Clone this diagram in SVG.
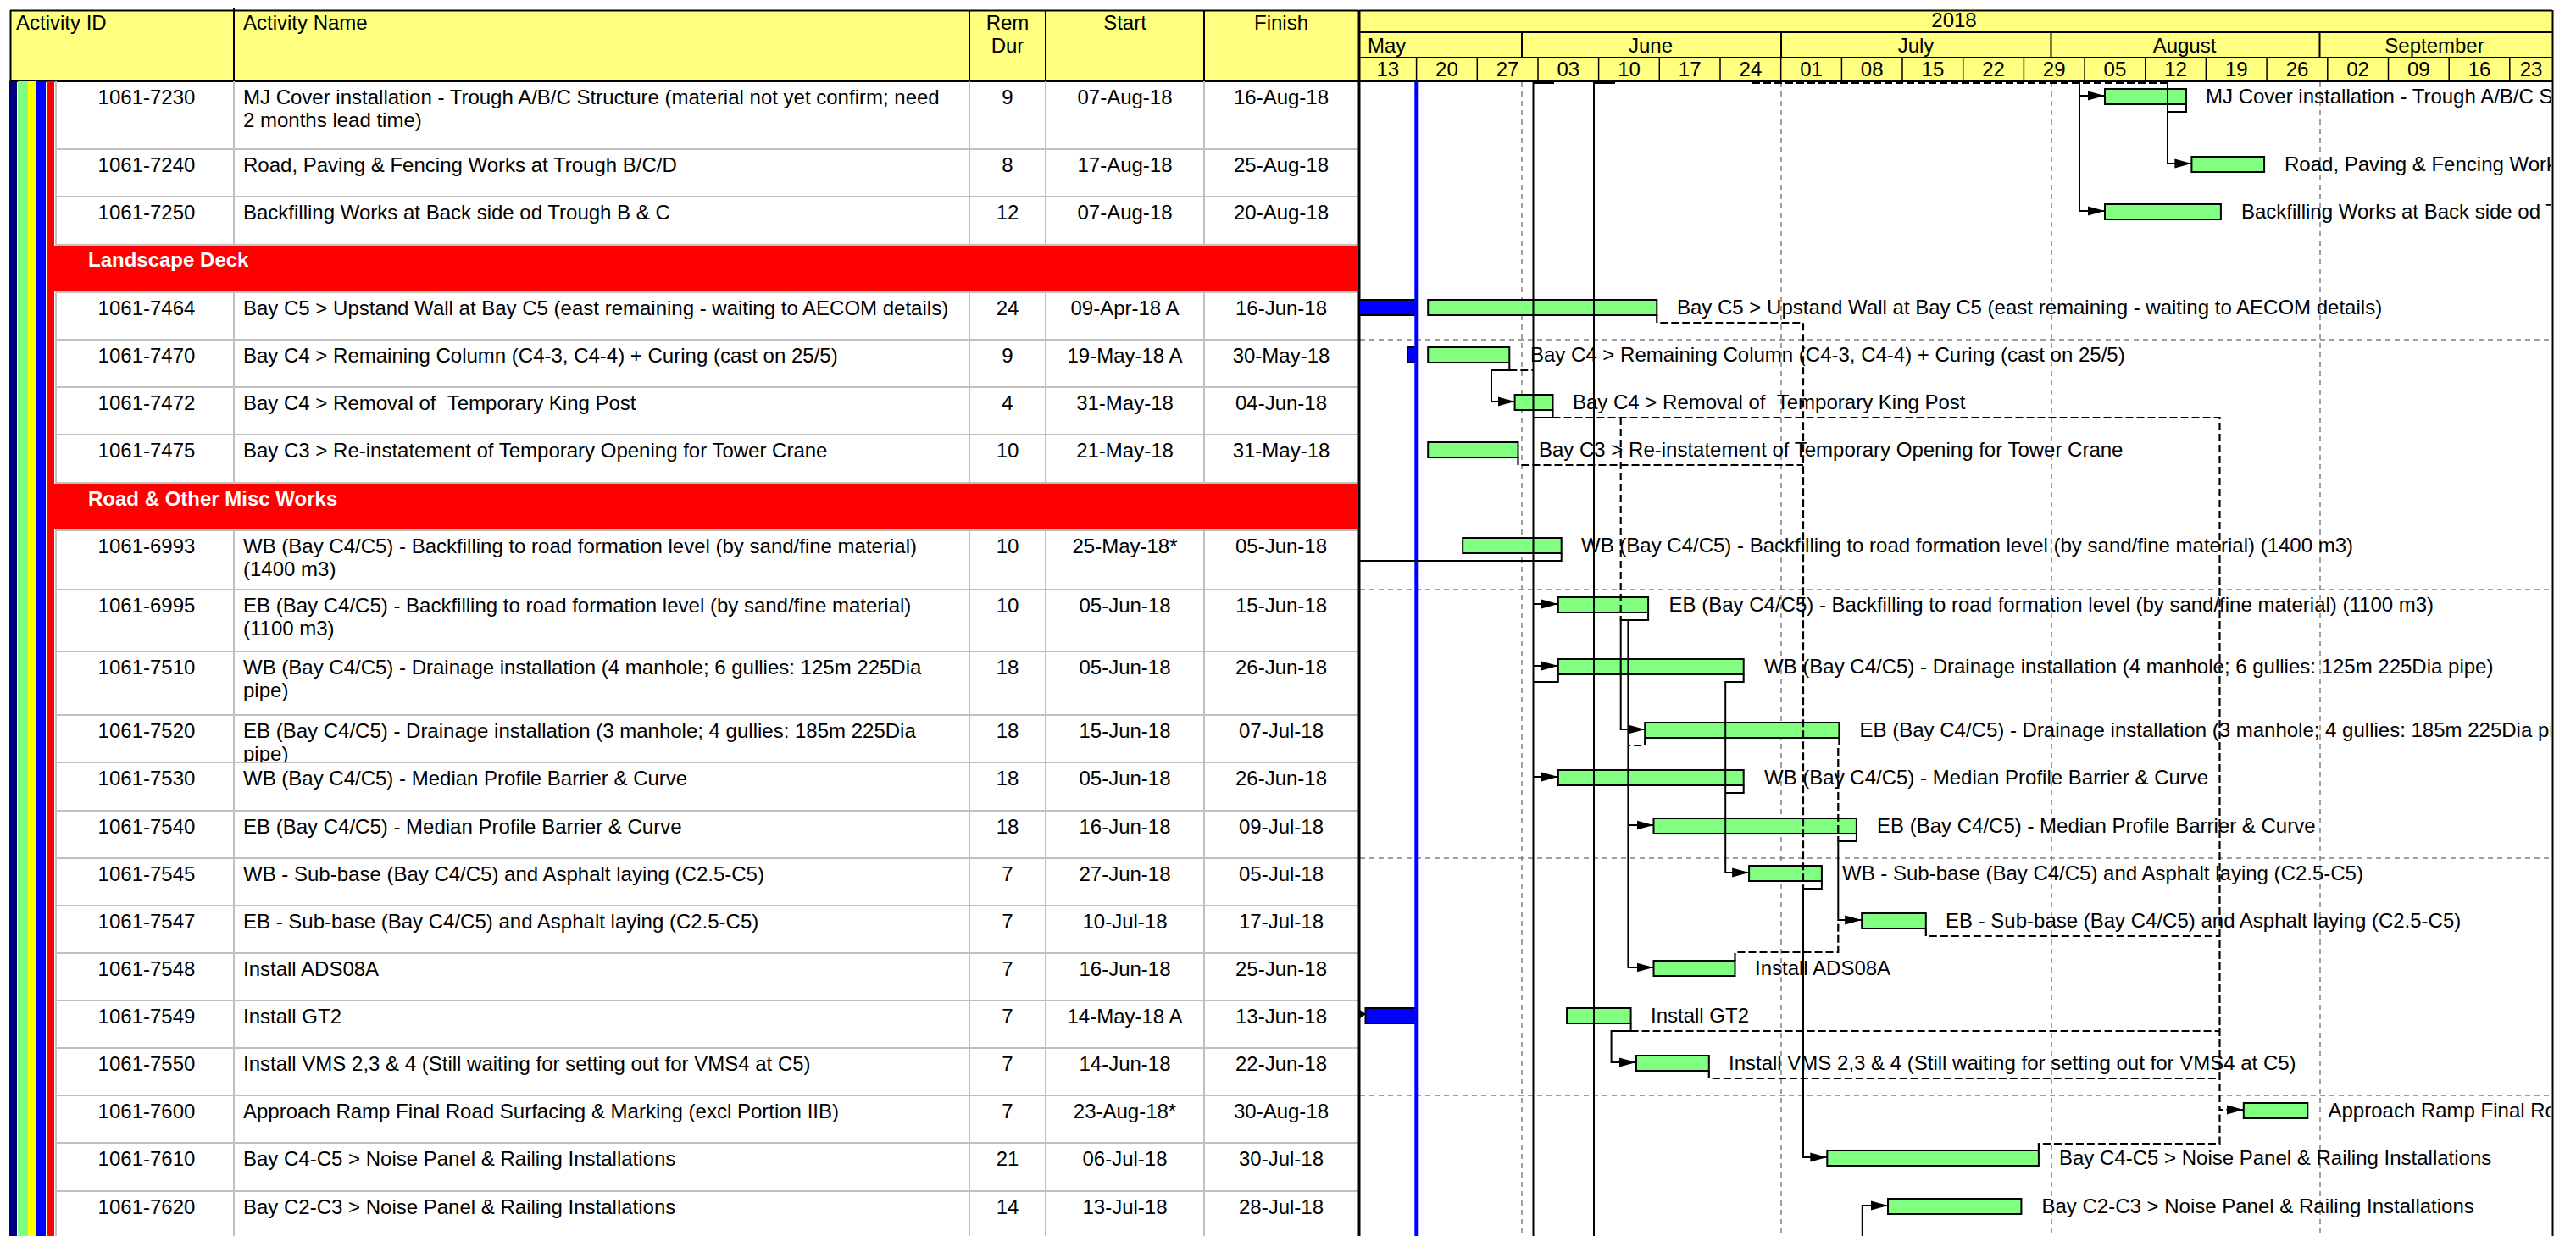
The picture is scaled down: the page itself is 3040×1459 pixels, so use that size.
<svg xmlns="http://www.w3.org/2000/svg" width="3040" height="1459" viewBox="0 0 3040 1459">
<style>
.t{font-family:"Liberation Sans",Arial,Helvetica,sans-serif;font-size:24px;fill:#000}
.c{text-anchor:middle}
.bt{font-weight:bold;fill:#fff}
.grid{stroke:#c0c0c0;stroke-width:2;fill:none}
.hl{stroke:#000;stroke-width:2;fill:none}
.tick{stroke:#000;stroke-width:1.5;fill:none}
.bar{fill:#80ff80;stroke:#000;stroke-width:2}
.act{fill:#0000ff;stroke:#000;stroke-width:2}
.rel{fill:none;stroke:#000;stroke-width:2}
.reld{fill:none;stroke:#000;stroke-width:2.2;stroke-dasharray:9 4}
.sight{stroke:#808080;stroke-width:1.5;stroke-dasharray:6 5;fill:none}
.arrow{marker-end:url(#arr)}
</style>
<defs>
<marker id="arr" markerUnits="userSpaceOnUse" markerWidth="21" markerHeight="12" refX="20" refY="6" orient="auto" viewBox="0 0 21 12"><path d="M0,0.5 L20,6 L0,11.5 z" fill="#000"/></marker>
<clipPath id="gclip"><rect x="1606" y="97" width="1405" height="1362"/></clipPath>
<clipPath id="c7520"><rect x="277" y="845" width="866" height="54"/></clipPath>
</defs>
<rect x="0" y="0" width="3040" height="1459" fill="#fff"/>

<g id="table-header">
<rect x="12" y="12" width="1591" height="84" fill="#ffff80"/>
<path class="hl" d="M12,12.5 H1603 M12.5,12 V96 M276,9 V96 M1144,12 V96 M1234,12 V96 M1421,12 V96"/>
<path d="M12,95.5 H1604" stroke="#000" stroke-width="3"/>
<text class="t" x="19" y="35">Activity ID</text>
<text class="t" x="287" y="35">Activity Name</text>
<text class="t c" x="1189" y="35">Rem</text>
<text class="t c" x="1189" y="62">Dur</text>
<text class="t c" x="1327.5" y="35">Start</text>
<text class="t c" x="1512" y="35">Finish</text>
</g>

<g id="gantt-header">
<rect x="1604" y="12" width="1408" height="84" fill="#ffff80"/>
<path class="hl" d="M1604,12.5 H3012 M1604,38 H3012 M1604,68 H3012 M1796,38 V68 M2102,38 V68 M2420.5,38 V68 M2737.5,38 V68"/>
<path d="M1604,95.5 H3013" stroke="#000" stroke-width="3"/>
<path class="tick" d="M1671.6,68 V96 M1743.3,68 V96 M1815,68 V96 M1886.6,68 V96 M1958.3,68 V96 M2030,68 V96 M2101.7,68 V96 M2173.4,68 V96 M2245,68 V96 M2316.7,68 V96 M2388.4,68 V96 M2460.1,68 V96 M2531.8,68 V96 M2603.4,68 V96 M2675.1,68 V96 M2746.8,68 V96 M2818.5,68 V96 M2890.2,68 V96 M2961.8,68 V96"/>
<text class="t c" x="2306" y="32">2018</text>
<text class="t" x="1614" y="62">May</text>
<text class="t c" x="1948" y="62">June</text>
<text class="t c" x="2261" y="62">July</text>
<text class="t c" x="2578" y="62">August</text>
<text class="t c" x="2873" y="62">September</text>
<text class="t c" x="1637.8" y="90">13</text>
<text class="t c" x="1707.4" y="90">20</text>
<text class="t c" x="1779.1" y="90">27</text>
<text class="t c" x="1850.8" y="90">03</text>
<text class="t c" x="1922.5" y="90">10</text>
<text class="t c" x="1994.2" y="90">17</text>
<text class="t c" x="2065.9" y="90">24</text>
<text class="t c" x="2137.5" y="90">01</text>
<text class="t c" x="2209.2" y="90">08</text>
<text class="t c" x="2280.9" y="90">15</text>
<text class="t c" x="2352.6" y="90">22</text>
<text class="t c" x="2424.2" y="90">29</text>
<text class="t c" x="2495.9" y="90">05</text>
<text class="t c" x="2567.6" y="90">12</text>
<text class="t c" x="2639.3" y="90">19</text>
<text class="t c" x="2711" y="90">26</text>
<text class="t c" x="2782.6" y="90">02</text>
<text class="t c" x="2854.3" y="90">09</text>
<text class="t c" x="2926" y="90">16</text>
<text class="t c" x="2987" y="90">23</text>
</g>

<g id="table-grid">
<rect x="11" y="96" width="9" height="1363" fill="#000080"/>
<rect x="21" y="96" width="12" height="1363" fill="#80ff80"/>
<rect x="33" y="96" width="10" height="1363" fill="#ffff00"/>
<rect x="43" y="96" width="11" height="1363" fill="#0000ff"/>
<rect x="55" y="96" width="9" height="1363" fill="#ff0000"/>
<path class="grid" d="M66,96 V1459 M276,96 V1459 M1144,96 V1459 M1234,96 V1459 M1421,96 V1459"/>
<path class="grid" d="M66,176 H1603 M66,232 H1603 M66,289 H1603 M66,345 H1603 M66,401 H1603 M66,457 H1603 M66,513 H1603 M66,570 H1603 M66,626 H1603 M66,696 H1603 M66,769 H1603 M66,844 H1603 M66,900 H1603 M66,957 H1603 M66,1013 H1603 M66,1069 H1603 M66,1125 H1603 M66,1181 H1603 M66,1237 H1603 M66,1293 H1603 M66,1349 H1603 M66,1406 H1603"/>
</g>

<g id="gantt-grid">
<path class="sight" d="M1796,97 V1459 M2102,97 V1459 M2421,97 V1459 M2738,97 V1459"/>
<path class="sight" d="M1605,401 H3012 M1605,696 H3012 M1605,1013 H3012 M1605,1293 H3012"/>
<path d="M1604,12 V1459" stroke="#000" stroke-width="3"/>
<path d="M3012.5,12 V1459" stroke="#000" stroke-width="2"/>
</g>

<g id="band-landscape-deck">
<rect x="55" y="290" width="1548" height="54" fill="#ff0000"/>
<text class="t bt" x="104" y="315">Landscape Deck</text>
</g>
<g id="band-road-misc">
<rect x="55" y="571" width="1548" height="54" fill="#ff0000"/>
<text class="t bt" x="104" y="597">Road &amp; Other Misc Works</text>
</g>

<g id="a1061-7230">
<text class="t c" x="173" y="123">1061-7230</text>
<text class="t" x="287" y="123">MJ Cover installation - Trough A/B/C Structure (material not yet confirm; need</text>
<text class="t" x="287" y="150">2 months lead time)</text>
<text class="t c" x="1189" y="123">9</text>
<text class="t c" x="1327.5" y="123">07-Aug-18</text>
<text class="t c" x="1512" y="123">16-Aug-18</text>
<rect class="bar" x="2484" y="105" width="96" height="18"/>
<text class="t" x="2603" y="122" clip-path="url(#gclip)">MJ Cover installation - Trough A/B/C Structure (material not yet confirm; need 2 months lead time)</text>
</g>
<g id="a1061-7240">
<text class="t c" x="173" y="203">1061-7240</text>
<text class="t" x="287" y="203">Road, Paving &amp; Fencing Works at Trough B/C/D</text>
<text class="t c" x="1189" y="203">8</text>
<text class="t c" x="1327.5" y="203">17-Aug-18</text>
<text class="t c" x="1512" y="203">25-Aug-18</text>
<rect class="bar" x="2586.4" y="185" width="85.7" height="18"/>
<text class="t" x="2696" y="202" clip-path="url(#gclip)">Road, Paving &amp; Fencing Works at Trough B/C/D</text>
</g>
<g id="a1061-7250">
<text class="t c" x="173" y="259">1061-7250</text>
<text class="t" x="287" y="259">Backfilling Works at Back side od Trough B &amp; C</text>
<text class="t c" x="1189" y="259">12</text>
<text class="t c" x="1327.5" y="259">07-Aug-18</text>
<text class="t c" x="1512" y="259">20-Aug-18</text>
<rect class="bar" x="2484" y="241" width="136.9" height="18"/>
<text class="t" x="2645" y="258" clip-path="url(#gclip)">Backfilling Works at Back side od Trough B &amp; C</text>
</g>
<g id="a1061-7464">
<text class="t c" x="173" y="372">1061-7464</text>
<text class="t" x="287" y="372">Bay C5 &gt; Upstand Wall at Bay C5 (east remaining - waiting to AECOM details)</text>
<text class="t c" x="1189" y="372">24</text>
<text class="t c" x="1327.5" y="372">09-Apr-18 A</text>
<text class="t c" x="1512" y="372">16-Jun-18</text>
<rect class="act" x="1604" y="354" width="68" height="18"/>
<rect class="bar" x="1685.2" y="354" width="270.1" height="18"/>
<text class="t" x="1979" y="371" clip-path="url(#gclip)">Bay C5 &gt; Upstand Wall at Bay C5 (east remaining - waiting to AECOM details)</text>
</g>
<g id="a1061-7470">
<text class="t c" x="173" y="428">1061-7470</text>
<text class="t" x="287" y="428">Bay C4 &gt; Remaining Column (C4-3, C4-4) + Curing (cast on 25/5)</text>
<text class="t c" x="1189" y="428">9</text>
<text class="t c" x="1327.5" y="428">19-May-18 A</text>
<text class="t c" x="1512" y="428">30-May-18</text>
<rect class="act" x="1661" y="410" width="11" height="18"/>
<rect class="bar" x="1685.2" y="410" width="96.1" height="18"/>
<text class="t" x="1806" y="427" clip-path="url(#gclip)">Bay C4 &gt; Remaining Column (C4-3, C4-4) + Curing (cast on 25/5)</text>
</g>
<g id="a1061-7472">
<text class="t c" x="173" y="484">1061-7472</text>
<text class="t" x="287" y="484">Bay C4 &gt; Removal of &#160;Temporary King Post</text>
<text class="t c" x="1189" y="484">4</text>
<text class="t c" x="1327.5" y="484">31-May-18</text>
<text class="t c" x="1512" y="484">04-Jun-18</text>
<rect class="bar" x="1787.6" y="466" width="44.9" height="18"/>
<text class="t" x="1856" y="483" clip-path="url(#gclip)">Bay C4 &gt; Removal of &#160;Temporary King Post</text>
</g>
<g id="a1061-7475">
<text class="t c" x="173" y="540">1061-7475</text>
<text class="t" x="287" y="540">Bay C3 &gt; Re-instatement of Temporary Opening for Tower Crane</text>
<text class="t c" x="1189" y="540">10</text>
<text class="t c" x="1327.5" y="540">21-May-18</text>
<text class="t c" x="1512" y="540">31-May-18</text>
<rect class="bar" x="1685.2" y="522" width="106.3" height="18"/>
<text class="t" x="1816" y="539" clip-path="url(#gclip)">Bay C3 &gt; Re-instatement of Temporary Opening for Tower Crane</text>
</g>
<g id="a1061-6993">
<text class="t c" x="173" y="653">1061-6993</text>
<text class="t" x="287" y="653">WB (Bay C4/C5) - Backfilling to road formation level (by sand/fine material)</text>
<text class="t" x="287" y="680">(1400 m3)</text>
<text class="t c" x="1189" y="653">10</text>
<text class="t c" x="1327.5" y="653">25-May-18*</text>
<text class="t c" x="1512" y="653">05-Jun-18</text>
<rect class="bar" x="1726.2" y="635" width="116.5" height="18"/>
<text class="t" x="1866" y="652" clip-path="url(#gclip)">WB (Bay C4/C5) - Backfilling to road formation level (by sand/fine material) (1400 m3)</text>
</g>
<g id="a1061-6995">
<text class="t c" x="173" y="723">1061-6995</text>
<text class="t" x="287" y="723">EB (Bay C4/C5) - Backfilling to road formation level (by sand/fine material)</text>
<text class="t" x="287" y="750">(1100 m3)</text>
<text class="t c" x="1189" y="723">10</text>
<text class="t c" x="1327.5" y="723">05-Jun-18</text>
<text class="t c" x="1512" y="723">15-Jun-18</text>
<rect class="bar" x="1838.8" y="705" width="106.3" height="18"/>
<text class="t" x="1969.5" y="722" clip-path="url(#gclip)">EB (Bay C4/C5) - Backfilling to road formation level (by sand/fine material) (1100 m3)</text>
</g>
<g id="a1061-7510">
<text class="t c" x="173" y="796">1061-7510</text>
<text class="t" x="287" y="796">WB (Bay C4/C5) - Drainage installation (4 manhole; 6 gullies: 125m 225Dia</text>
<text class="t" x="287" y="823">pipe)</text>
<text class="t c" x="1189" y="796">18</text>
<text class="t c" x="1327.5" y="796">05-Jun-18</text>
<text class="t c" x="1512" y="796">26-Jun-18</text>
<rect class="bar" x="1838.8" y="778" width="218.9" height="18"/>
<text class="t" x="2082" y="795" clip-path="url(#gclip)">WB (Bay C4/C5) - Drainage installation (4 manhole; 6 gullies: 125m 225Dia pipe)</text>
</g>
<g id="a1061-7520">
<text class="t c" x="173" y="871">1061-7520</text>
<g clip-path="url(#c7520)">
<text class="t" x="287" y="871">EB (Bay C4/C5) - Drainage installation (3 manhole; 4 gullies: 185m 225Dia</text>
<text class="t" x="287" y="898">pipe)</text>
</g>
<text class="t c" x="1189" y="871">18</text>
<text class="t c" x="1327.5" y="871">15-Jun-18</text>
<text class="t c" x="1512" y="871">07-Jul-18</text>
<rect class="bar" x="1941.2" y="853" width="229.2" height="18"/>
<text class="t" x="2194.5" y="870" clip-path="url(#gclip)">EB (Bay C4/C5) - Drainage installation (3 manhole; 4 gullies: 185m 225Dia pipe)</text>
</g>
<g id="a1061-7530">
<text class="t c" x="173" y="927">1061-7530</text>
<text class="t" x="287" y="927">WB (Bay C4/C5) - Median Profile Barrier &amp; Curve</text>
<text class="t c" x="1189" y="927">18</text>
<text class="t c" x="1327.5" y="927">05-Jun-18</text>
<text class="t c" x="1512" y="927">26-Jun-18</text>
<rect class="bar" x="1838.8" y="909" width="218.9" height="18"/>
<text class="t" x="2082" y="926" clip-path="url(#gclip)">WB (Bay C4/C5) - Median Profile Barrier &amp; Curve</text>
</g>
<g id="a1061-7540">
<text class="t c" x="173" y="984">1061-7540</text>
<text class="t" x="287" y="984">EB (Bay C4/C5) - Median Profile Barrier &amp; Curve</text>
<text class="t c" x="1189" y="984">18</text>
<text class="t c" x="1327.5" y="984">16-Jun-18</text>
<text class="t c" x="1512" y="984">09-Jul-18</text>
<rect class="bar" x="1951.5" y="966" width="239.4" height="18"/>
<text class="t" x="2215" y="983" clip-path="url(#gclip)">EB (Bay C4/C5) - Median Profile Barrier &amp; Curve</text>
</g>
<g id="a1061-7545">
<text class="t c" x="173" y="1040">1061-7545</text>
<text class="t" x="287" y="1040">WB - Sub-base (Bay C4/C5) and Asphalt laying (C2.5-C5)</text>
<text class="t c" x="1189" y="1040">7</text>
<text class="t c" x="1327.5" y="1040">27-Jun-18</text>
<text class="t c" x="1512" y="1040">05-Jul-18</text>
<rect class="bar" x="2064.1" y="1022" width="85.8" height="18"/>
<text class="t" x="2174" y="1039" clip-path="url(#gclip)">WB - Sub-base (Bay C4/C5) and Asphalt laying (C2.5-C5)</text>
</g>
<g id="a1061-7547">
<text class="t c" x="173" y="1096">1061-7547</text>
<text class="t" x="287" y="1096">EB - Sub-base (Bay C4/C5) and Asphalt laying (C2.5-C5)</text>
<text class="t c" x="1189" y="1096">7</text>
<text class="t c" x="1327.5" y="1096">10-Jul-18</text>
<text class="t c" x="1512" y="1096">17-Jul-18</text>
<rect class="bar" x="2197.2" y="1078" width="75.6" height="18"/>
<text class="t" x="2296" y="1095" clip-path="url(#gclip)">EB - Sub-base (Bay C4/C5) and Asphalt laying (C2.5-C5)</text>
</g>
<g id="a1061-7548">
<text class="t c" x="173" y="1152">1061-7548</text>
<text class="t" x="287" y="1152">Install ADS08A</text>
<text class="t c" x="1189" y="1152">7</text>
<text class="t c" x="1327.5" y="1152">16-Jun-18</text>
<text class="t c" x="1512" y="1152">25-Jun-18</text>
<rect class="bar" x="1951.5" y="1134" width="96" height="18"/>
<text class="t" x="2071" y="1151" clip-path="url(#gclip)">Install ADS08A</text>
</g>
<g id="a1061-7549">
<text class="t c" x="173" y="1208">1061-7549</text>
<text class="t" x="287" y="1208">Install GT2</text>
<text class="t c" x="1189" y="1208">7</text>
<text class="t c" x="1327.5" y="1208">14-May-18 A</text>
<text class="t c" x="1512" y="1208">13-Jun-18</text>
<rect class="act" x="1611.5" y="1190" width="60.5" height="18"/>
<rect class="bar" x="1849.1" y="1190" width="75.5" height="18"/>
<text class="t" x="1948" y="1207" clip-path="url(#gclip)">Install GT2</text>
</g>
<g id="a1061-7550">
<text class="t c" x="173" y="1264">1061-7550</text>
<text class="t" x="287" y="1264">Install VMS 2,3 &amp; 4 (Still waiting for setting out for VMS4 at C5)</text>
<text class="t c" x="1189" y="1264">7</text>
<text class="t c" x="1327.5" y="1264">14-Jun-18</text>
<text class="t c" x="1512" y="1264">22-Jun-18</text>
<rect class="bar" x="1931" y="1246" width="85.8" height="18"/>
<text class="t" x="2040" y="1263" clip-path="url(#gclip)">Install VMS 2,3 &amp; 4 (Still waiting for setting out for VMS4 at C5)</text>
</g>
<g id="a1061-7600">
<text class="t c" x="173" y="1320">1061-7600</text>
<text class="t" x="287" y="1320">Approach Ramp Final Road Surfacing &amp; Marking (excl Portion IIB)</text>
<text class="t c" x="1189" y="1320">7</text>
<text class="t c" x="1327.5" y="1320">23-Aug-18*</text>
<text class="t c" x="1512" y="1320">30-Aug-18</text>
<rect class="bar" x="2647.8" y="1302" width="75.5" height="18"/>
<text class="t" x="2747.5" y="1319" clip-path="url(#gclip)">Approach Ramp Final Road Surfacing &amp; Marking (excl Portion IIB)</text>
</g>
<g id="a1061-7610">
<text class="t c" x="173" y="1376">1061-7610</text>
<text class="t" x="287" y="1376">Bay C4-C5 &gt; Noise Panel &amp; Railing Installations</text>
<text class="t c" x="1189" y="1376">21</text>
<text class="t c" x="1327.5" y="1376">06-Jul-18</text>
<text class="t c" x="1512" y="1376">30-Jul-18</text>
<rect class="bar" x="2156.3" y="1358" width="249.6" height="18"/>
<text class="t" x="2430" y="1375" clip-path="url(#gclip)">Bay C4-C5 &gt; Noise Panel &amp; Railing Installations</text>
</g>
<g id="a1061-7620">
<text class="t c" x="173" y="1433">1061-7620</text>
<text class="t" x="287" y="1433">Bay C2-C3 &gt; Noise Panel &amp; Railing Installations</text>
<text class="t c" x="1189" y="1433">14</text>
<text class="t c" x="1327.5" y="1433">13-Jul-18</text>
<text class="t c" x="1512" y="1433">28-Jul-18</text>
<rect class="bar" x="2228" y="1415" width="157.4" height="18"/>
<text class="t" x="2409.5" y="1432" clip-path="url(#gclip)">Bay C2-C3 &gt; Noise Panel &amp; Railing Installations</text>
</g>

<g id="data-date">
<path d="M1671.8,97 V1459" stroke="#0000ff" stroke-width="5"/>
</g>

<g id="connectors">
<path class="rel" d="M1809.5,97 V1459 M1809.5,98 H1834 M1881,97 V1459 M1881,98 H1906"/>
<path class="rel" d="M2454,97 V249"/>
<path class="rel arrow" d="M2454,113 H2484"/>
<path class="rel arrow" d="M2454,249 H2484"/>
<path class="rel" d="M2580,123 V132 H2558"/>
<path class="rel arrow" d="M2558,98 V193 H2586.4"/>
<path class="rel arrow" d="M1781.3,428 V437 H1760 V474 H1787.6"/>
<path class="rel" d="M1832.5,484 V493 H1809.5"/>
<path class="rel arrow" d="M1809.5,713 H1838.8"/>
<path class="rel arrow" d="M1809.5,786 H1838.8"/>
<path class="rel arrow" d="M1809.5,917 H1838.8"/>
<path class="rel" d="M1838.8,796 V805 H1809.5"/>
<path class="rel" d="M1842.7,653 V662 H1605"/>
<path class="rel arrow" d="M1945.1,723 V732 H1912.7 V861 H1941.2"/>
<path class="rel arrow" d="M1921.4,732 V1142 H1951.5"/>
<path class="rel arrow" d="M1921.4,974 H1951.5"/>
<path class="rel arrow" d="M2057.7,796 V805 H2036.2 V1030 H2064.1"/>
<path class="rel" d="M2057.7,927 V936 H2036.2"/>
<path class="rel arrow" d="M2190.9,984 V993 H2169.3 V1086 H2197.2"/>
<path class="rel arrow" d="M2149.9,1040 V1049 H2128 V1366 H2156.3"/>
<path class="rel arrow" d="M1924.6,1208 V1217 H1901.6 V1254 H1931"/>
<path class="rel arrow" d="M2197.8,1459 V1423 H2228"/>
<polygon points="1605,1192 1612,1197 1605,1202" fill="#000"/>
<path class="reld" d="M2068,98 H2558"/>
<path class="reld" d="M1955.3,372 V381 H2128 V1049"/>
<path class="reld" d="M1791.5,540 V549 H2128"/>
<path class="reld" d="M1781.3,437 H1809.5"/>
<path class="reld arrow" d="M1832.5,493 H2619.5 V1310 H2647.8"/>
<path class="reld" d="M1912.7,493 V732"/>
<path class="reld" d="M1941.2,871 V880 H1921.4"/>
<path class="reld" d="M2170.4,871 V880 H2169.3 V993"/>
<path class="reld" d="M2047.5,1134 V1124 H2169.3 V1086"/>
<path class="reld" d="M2272.8,1096 V1105 H2619.5"/>
<path class="reld" d="M1924.6,1217 H2619.5"/>
<path class="reld" d="M2016.8,1264 V1273 H2619.5"/>
<path class="reld" d="M2405.9,1358 V1350 H2619.5 V1310"/>
</g>
</svg>
